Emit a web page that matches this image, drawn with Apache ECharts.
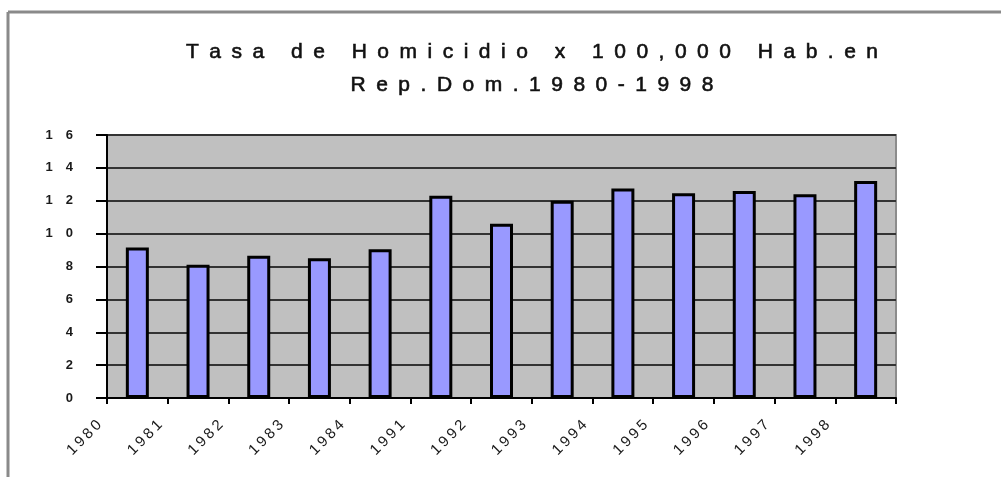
<!DOCTYPE html>
<html>
<head>
<meta charset="utf-8">
<script src="https://cdn.jsdelivr.net/npm/echarts@6/dist/echarts.min.js"></script>
<style>html,body{margin:0;padding:0;background:#fff;}#c{width:1001px;height:477px;}</style>
</head>
<body>
<div id="c"></div>
<script>
var titleLine1 = 'Tasa de Homicidio x 100,000 Hab.en';
var titleLine2 = 'Rep.Dom.1980-1998';
var years = ['1980','1981','1982','1983','1984','1991','1992','1993','1994','1995','1996','1997','1998'];
var rates = [9.15, 8.1, 8.65, 8.5, 9.05, 12.3, 10.6, 12.0, 12.75, 12.45, 12.6, 12.4, 13.2];
var yTicks = [0, 2, 4, 6, 8, 10, 12, 14, 16];

function spaced(s, sep) { return s.split('').join(sep); }

var chart = echarts.init(document.getElementById('c'), null, {renderer: 'canvas'});
var font = 'Arial, "Liberation Sans", sans-serif';
chart.setOption({
  animation: false,
  backgroundColor: '#ffffff',
  title: {
    text: spaced(titleLine1, '\u2002') + '\n' + spaced(titleLine2, '\u2002'),
    left: 527,
    top: 31,
    textAlign: 'center',
    textStyle: {fontFamily: font, fontSize: 21, fontWeight: 'normal', color: '#111', lineHeight: 33,
      textBorderColor: '#111', textBorderWidth: 0.6}
  },
  graphic: [
    {type: 'line', shape: {x1: 8, y1: 12, x2: 1001, y2: 12}, style: {stroke: '#8a8a8a', lineWidth: 3}, silent: true},
    {type: 'line', shape: {x1: 8, y1: 12, x2: 8, y2: 477}, style: {stroke: '#8a8a8a', lineWidth: 3}, silent: true}
  ],
  grid: {left: 107, right: 105, top: 135, bottom: 79, show: true, backgroundColor: '#c0c0c0', borderColor: '#8c8c8c', borderWidth: 2, containLabel: false},
  xAxis: [
    {
      type: 'category', data: years, boundaryGap: true, position: 'bottom',
      axisLine: {show: true, lineStyle: {color: '#000', width: 2}},
      axisTick: {show: true, length: 6, lineStyle: {color: '#000', width: 2}},
      axisLabel: {show: false},
      splitLine: {show: false}
    },
    {
      type: 'category', data: years.concat(['']), boundaryGap: false, position: 'bottom',
      axisLine: {show: false}, axisTick: {show: false}, splitLine: {show: false},
      axisLabel: {show: true, interval: 0, rotate: 45, margin: 17, padding: [0, 11, 0, 0],
        fontFamily: font, fontSize: 15, color: '#1a1a1a',
        formatter: function (v) { return spaced(v, '\u2009'); }}
    }
  ],
  yAxis: {
    type: 'value', min: 0, max: 16, interval: 2,
    axisLine: {show: true, lineStyle: {color: '#000', width: 2}},
    axisTick: {show: true, length: 11, lineStyle: {color: '#000', width: 2}},
    axisLabel: {margin: 34, fontFamily: font, fontSize: 13, fontWeight: 'bold', color: '#1a1a1a',
      formatter: function (v) { return yTicks.indexOf(v) >= 0 ? spaced(String(v), '\u2003') : ''; }},
    splitLine: {show: true, lineStyle: {color: '#333', width: 2}}
  },
  series: [{
    type: 'bar', xAxisIndex: 0, data: rates, barWidth: 23,
    itemStyle: {color: '#9999ff', borderColor: '#000', borderWidth: 3}
  }]
});
</script>
</body>
</html>
